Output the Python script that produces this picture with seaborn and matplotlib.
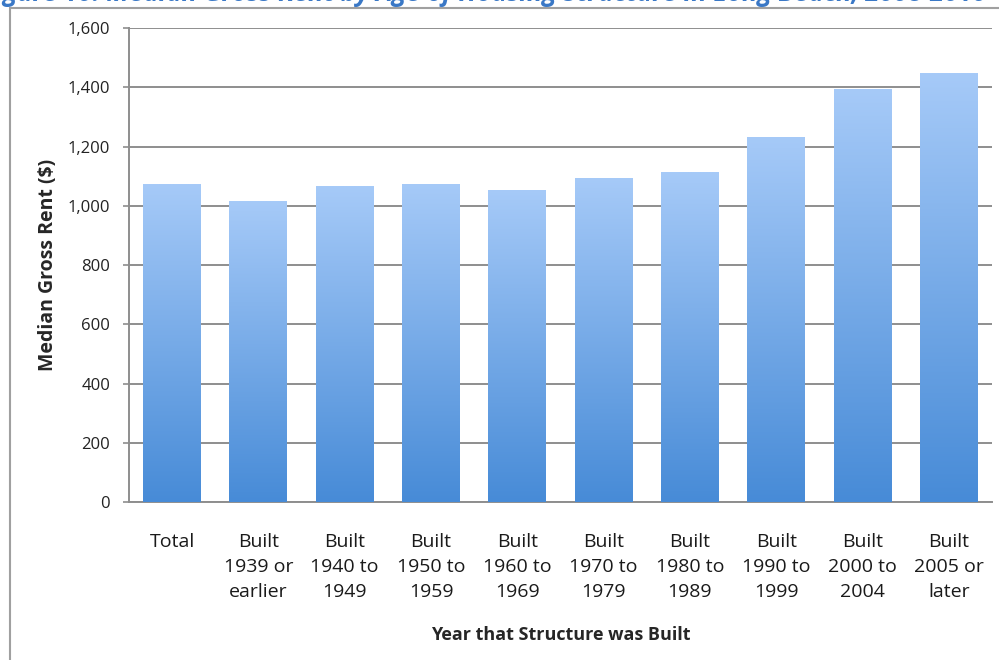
import matplotlib
matplotlib.use("Agg")
import matplotlib.pyplot as plt
import matplotlib.patches as mpatches
from matplotlib.colors import LinearSegmentedColormap
import seaborn as sns
import numpy as np
import pandas as pd

# data
categories = ["Total", "Built\n1939 or\nearlier", "Built\n1940 to\n1949", "Built\n1950 to\n1959",
              "Built\n1960 to\n1969", "Built\n1970 to\n1979", "Built\n1980 to\n1989",
              "Built\n1990 to\n1999", "Built\n2000 to\n2004", "Built\n2005 or\nlater"]
rent = [1072, 1016, 1066, 1075, 1054, 1095, 1114, 1233, 1394, 1447]
yticks = list(range(0, 1601, 200))

df = pd.DataFrame({"cat": categories, "rent": rent})

sns.set_style("white")
plt.rcParams["font.family"] = ["Open Sans", "DejaVu Sans"]

fig = plt.figure(figsize=(9.99, 6.6), dpi=100)
ax = fig.add_axes([0.129, 0.2394, 0.864, 0.718])

sns.barplot(data=df, x="cat", y="rent", ax=ax, width=0.67, color="#6fa5e8", zorder=3)

# gradient fill: light at top, darker at bottom
grad = LinearSegmentedColormap.from_list("bar", ["#478bd7", "#a6caf8"])
img = np.linspace(0, 1, 256).reshape(-1, 1)
for p in ax.patches:
    x0, y0 = p.get_x(), p.get_y()
    w, h = p.get_width(), p.get_height()
    p.set_facecolor("none")
    p.set_edgecolor("none")
    im = ax.imshow(img, cmap=grad, origin="lower", aspect="auto",
                   extent=[x0, x0 + w, y0, y0 + h], zorder=3)
    im.set_clip_path(p)

ax.set_xlim(-0.5, len(categories) - 0.5)
ax.set_ylim(0, 1600)
ax.set_yticks(yticks)
ax.set_yticklabels([f"{v:,}" for v in yticks], fontsize=12, color="#222222")
ax.yaxis.grid(True, color="#8e8e8e", linewidth=1.4, zorder=0)
ax.set_axisbelow(True)

ax.set_xticks(range(len(categories)))
ax.set_xticklabels(categories, fontsize=14, linespacing=1.5, color="#1a1a1a")
ax.set_xticks(np.arange(-0.5, len(categories), 1), minor=True)
ax.tick_params(axis="x", which="major", length=0, pad=22)
ax.tick_params(axis="x", which="minor", length=4.5, width=1.2, color="#8e8e8e", direction="out")
ax.tick_params(axis="y", length=4.5, width=1.2, color="#8e8e8e", direction="out", left=True, pad=9)

for s in ["top", "right"]:
    ax.spines[s].set_visible(False)
for s in ["left", "bottom"]:
    ax.spines[s].set_color("#8e8e8e")
    ax.spines[s].set_linewidth(1.4)

ax.set_xlabel("Year that Structure was Built", fontsize=13, fontweight="bold", labelpad=18)
ax.set_ylabel("Median Gross Rent ($)", fontsize=14, fontweight="bold", labelpad=7)

# outer chart frame, cut off at the right and bottom
fig.patches.append(mpatches.Rectangle((0.010, -0.1), 1.2, 1.088, transform=fig.transFigure,
                                      fill=False, edgecolor="#a0a0a0", linewidth=1.5))

# document caption above the chart, mostly off the page
fig.text(-0.018, 0.9985, "Figure 10: Median Gross Rent by Age of Housing Structure in Long Beach, 2008-2010",
         color="#3a78c6", fontsize=18.5, fontweight="bold", fontstyle="italic",
         va="baseline", ha="left")

fig.savefig("out.png", dpi=100)
